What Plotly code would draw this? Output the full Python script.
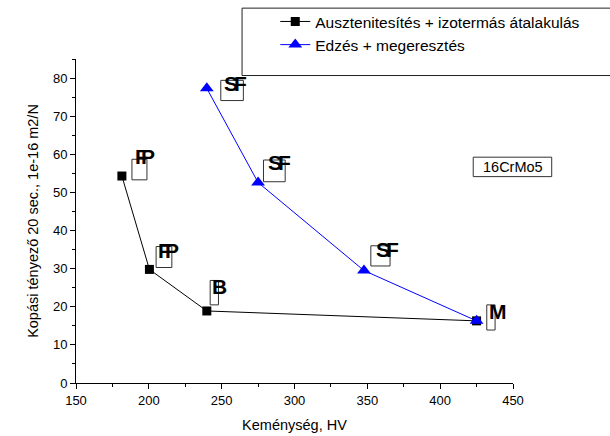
import plotly.graph_objects as go

# ---- data ----
aus_hv = [181.5, 200.4, 239.8, 425.0]
aus_k = [54.3, 29.8, 18.9, 16.3]
edz_hv = [239.8, 275.0, 347.7, 425.0]
edz_k = [77.3, 52.6, 29.5, 16.3]

series_names = ["Ausztenitesítés + izotermás átalakulás", "Edzés + megeresztés"]
x_title = "Keménység, HV"
y_title = "Kopási tényező 20 sec., 1e-16 m2/N"
x_ticks = [150, 200, 250, 300, 350, 400, 450]
y_ticks = [0, 10, 20, 30, 40, 50, 60, 70, 80]
steel_grade = "16CrMo5"

# point labels (overlapping letter pairs as in the original)
label_parts = [["S", "F"], ["S", "F"], ["S", "F"], ["F", "P"], ["F", "P"], ["B"], ["M"]]
label_x = [259.6, 290.0, 363.9, 197.5, 213.3, 248.4, 439.4]
label_y = [78.6, 57.8, 35.1, 59.3, 34.8, 25.4, 18.8]
box_x0 = [249.4, 278.7, 352.4, 188.4, 205.0, 242.1, 432.0]
box_x1 = [264.9, 293.6, 365.6, 198.7, 215.8, 247.8, 437.7]
box_y0 = [74.1, 52.8, 30.7, 53.3, 30.3, 20.5, 13.9]
box_y1 = [79.4, 58.5, 36.0, 58.7, 35.8, 26.9, 20.5]
part_shift = {"SF": [-5, 5], "FP": [-3.3, 3.3]}

fig = go.Figure()
fig.add_trace(go.Scatter(
    x=aus_hv, y=aus_k, mode="lines+markers", name=series_names[0],
    line=dict(color="black", width=1),
    marker=dict(symbol="square", size=9, color="black"),
))
fig.add_trace(go.Scatter(
    x=edz_hv, y=edz_k, mode="lines+markers", name=series_names[1],
    line=dict(color="#0000ff", width=1),
    marker=dict(symbol="triangle-up", size=12, color="#0000ff"),
))

shapes = []
annotations = []
for parts, lx, ly, bx0, bx1, by0, by1 in zip(label_parts, label_x, label_y, box_x0, box_x1, box_y0, box_y1):
    shapes.append(dict(type="rect", xref="x", yref="y", x0=bx0, x1=bx1, y0=by0, y1=by1,
                       line=dict(color="#333333", width=1), fillcolor="rgba(0,0,0,0)", layer="above"))
    shifts = part_shift.get("".join(parts), [0])
    for p, s in zip(parts, shifts):
        annotations.append(dict(x=lx, y=ly, xref="x", yref="y", text="<b>" + p + "</b>",
                                showarrow=False, xshift=s,
                                font=dict(family="Liberation Sans, Arial", size=21, color="black")))

# legend frame
shapes.append(dict(type="rect", xref="paper", yref="paper", x0=0.380, x1=1.25, y0=0.949, y1=1.157,
                   line=dict(color="#222222", width=1), fillcolor="rgba(0,0,0,0)"))
# steel grade box
shapes.append(dict(type="rect", xref="paper", yref="paper", x0=0.909, x1=1.0886, y0=0.637, y1=0.697,
                   line=dict(color="#333333", width=1), fillcolor="white"))
annotations.append(dict(x=0.999, y=0.667, xref="paper", yref="paper", text=steel_grade,
                        xanchor="center", yanchor="middle",
                        showarrow=False, font=dict(family="Liberation Sans, Arial", size=14.5, color="black")))

fig.update_layout(
    width=610, height=436,
    margin=dict(l=76, r=97, t=59, b=53, autoexpand=False),
    paper_bgcolor="white", plot_bgcolor="white",
    font=dict(family="Liberation Sans, Arial", color="black"),
    showlegend=True,
    legend=dict(x=0.456, y=1.167, xanchor="left", yanchor="top", bgcolor="rgba(0,0,0,0)",
                borderwidth=0, font=dict(size=15.5), tracegroupgap=0),
    shapes=shapes, annotations=annotations,
)
fig.update_xaxes(
    range=[150, 450], tickvals=x_ticks, showline=True, linecolor="black", linewidth=1,
    ticks="outside", ticklen=5, tickcolor="black", showgrid=False, zeroline=False,
    tickfont=dict(size=13),
    minor=dict(dtick=25, ticks="outside", ticklen=3, tickcolor="black", showgrid=False),
    title=dict(text=x_title, font=dict(size=14.5), standoff=13),
)
fig.update_yaxes(
    range=[0, 85], tickvals=y_ticks, showline=True, linecolor="black", linewidth=1,
    ticks="outside", ticklen=5, tickcolor="black", showgrid=False, zeroline=False,
    tickfont=dict(size=13),
    minor=dict(dtick=5, ticks="outside", ticklen=3, tickcolor="black", showgrid=False),
    title=dict(text=y_title, font=dict(size=14.5), standoff=10),
)

fig.write_html("out.html", config={"displayModeBar": False},
               post_script="document.body.style.margin='0';")
